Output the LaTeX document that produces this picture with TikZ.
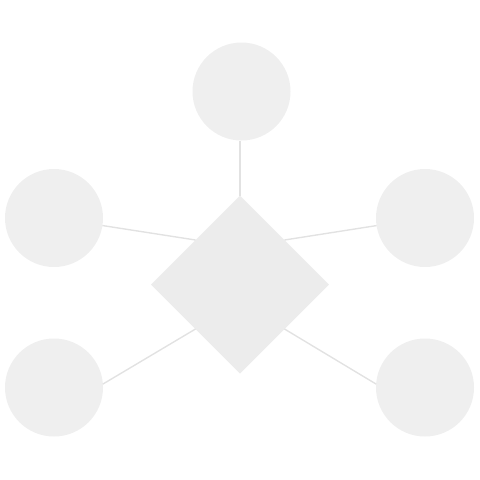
\documentclass[tikz,border=0pt]{standalone}
\usetikzlibrary{shapes.geometric}
\definecolor{shapefill}{HTML}{ECECEC}
\definecolor{circfill}{HTML}{EFEFEF}
\definecolor{linkcol}{HTML}{E2E2E2}
\begin{document}
\begin{tikzpicture}[x=1pt,y=-1pt,
  hub/.style={diamond,shape aspect=1,minimum width=178pt,minimum height=178pt,inner sep=0pt,outer sep=0pt,fill=shapefill},
  leaf/.style={circle,minimum size=98pt,inner sep=0pt,outer sep=0pt,fill=circfill},
  link/.style={draw=linkcol,line width=1.4pt}]
\useasboundingbox (0,0) rectangle (480,480);
\node[hub] (d) at (240,284.5) {};
\node[leaf] (t) at (241.5,91.5) {};
\node[leaf] (l) at (54,218) {};
\node[leaf] (r) at (425,218) {};
\node[leaf] (bl) at (54,387.5) {};
\node[leaf] (br) at (425,387.5) {};
\coordinate (tfoot) at (d.north |- t.south);
\draw[link] (tfoot) -- (d.north);
\draw[link] (l) -- (d.north west);
\draw[link] (r) -- (d.north east);
\draw[link] (bl.4) -- (d.south west);
\draw[link] (br.176) -- (d.south east);
\end{tikzpicture}
\end{document}
